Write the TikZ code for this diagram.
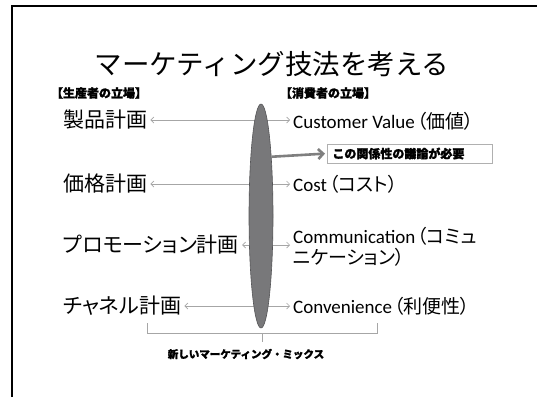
\documentclass[tikz,border=0pt]{standalone}
\usepackage{fontspec}
\setmainfont{Carlito}
\newfontfamily\cjk{Noto Sans CJK JP}
\newfontfamily\cjkp[RawFeature=+palt]{Noto Sans CJK JP}
\newfontfamily\cjkh[FakeBold=1.6]{Noto Sans CJK JP}
\usetikzlibrary{arrows.meta,shapes.geometric}
\definecolor{lensfill}{HTML}{78787A}
\definecolor{lensline}{HTML}{555557}
\definecolor{thinline}{HTML}{A6A6A6}
\definecolor{thickline}{HTML}{7F7F7F}
\definecolor{boxline}{HTML}{B0B0B0}
\tikzset{
  leftlbl/.style={anchor=west, inner sep=0pt, font=\cjkp\fontsize{21}{24}\selectfont},
  rightlbl/.style={anchor=west, inner sep=0pt, align=left, font=\fontsize{19}{21}\selectfont},
  heavy/.style={inner sep=0pt, font=\cjkh\bfseries\fontsize{12}{14}\selectfont},
  link/.style={draw=thinline, line width=0.7pt,
    {Straight Barb[length=3pt,width=6pt]}-{Straight Barb[length=3pt,width=6pt]},
    shorten <=3pt, shorten >=3pt},
  bracketline/.style={draw=thinline, line width=0.8pt},
}
\begin{document}
\begin{tikzpicture}[x=1pt,y=-1pt]
\useasboundingbox (0,0) rectangle (537,397);
\fill[white] (0,0) rectangle (537,397);
\draw[line width=2pt] (11.5,397) -- (11.5,5.5) -- (537,5.5);

\node[font=\cjk\fontsize{27.5}{30}\selectfont, inner sep=0pt] (title) at (272,64) {マーケティング技法を考える};
\node[heavy] (prod) at (99,93) {【生産者の立場】};
\node[heavy] (cons) at (328,93) {【消費者の立場】};

\node[leftlbl] (p1) at (63,120) {製品計画};
\node[leftlbl] (p2) at (63,184) {価格計画};
\node[leftlbl] (p3) at (63,245) {プロモーション計画};
\node[leftlbl] (p4) at (63,306) {チャネル計画};

\node[rightlbl] (c1) at (293,121) {Customer Value\hspace{2pt}{\cjkp （価値）}};
\node[rightlbl] (c2) at (293,184) {Cost\hspace{2pt}{\cjkp （コスト）}};
\node[rightlbl] (c3) at (293,246.5) {Communication\hspace{2pt}{\cjkp （コミュ}\\{\cjkp ニケーション）}};
\node[rightlbl] (c4) at (293,306) {Convenience\hspace{2pt}{\cjkp （利便性）}};

\draw[link] (p1.east) -- (p1.east -| c1.west);
\draw[link] (p2.east) -- (p2.east -| c2.west);
\draw[link] (p3.east) -- (p3.east -| c3.west);
\draw[link] (p4.east) -- (p4.east -| c4.west);

\node[ellipse, inner sep=0pt, minimum width=24, minimum height=224,
      fill=lensfill, draw=lensline, line width=0.6pt] (lens) at (261,216) {};

\node[draw=boxline, line width=0.8pt, anchor=west, text width=155, align=left,
      inner xsep=5pt, inner ysep=0pt, minimum height=19,
      font=\cjkh\bfseries\fontsize{12}{14}\selectfont] (note) at (327,153.5) {この関係性の議論が必要};
\draw[draw=thickline, line width=2.6pt, -{Straight Barb[length=5pt,width=10pt]},
      shorten >=2pt] (lens.80) -- (note.west);

\draw[bracketline] (147,323) -- (147,333) -- (377,333) -- (377,323);
\draw[bracketline] (262,333) -- (262,342);
\node[heavy, font=\cjkh\bfseries\fontsize{10.5}{13}\selectfont] (mix) at (246,354) {新しいマーケティング・ミックス};
\end{tikzpicture}
\end{document}
